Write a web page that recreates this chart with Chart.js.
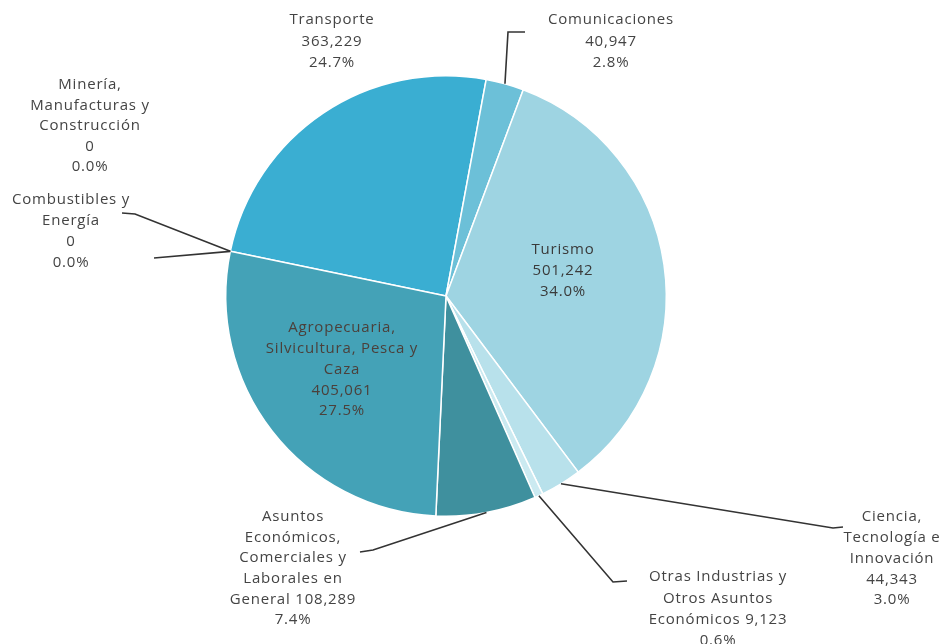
<!DOCTYPE html>
<html lang="es">
<head>
    <meta charset="UTF-8">
    <title>Distribución por función</title>
    <script src="https://cdn.jsdelivr.net/npm/chart.js"></script>
    <style>
        body { margin: 0; background: #ffffff; }
        #wrap { width: 948px; height: 644px; position: relative; }
    </style>
</head>
<body>
    <div id="wrap"><canvas id="pieChart" width="948" height="644"></canvas></div>

    <script>
        // Data (clockwise, starting with Transporte)
        const categories = [
            'Transporte', 'Comunicaciones', 'Turismo',
            'Ciencia, Tecnología e Innovación',
            'Otras Industrias y Otros Asuntos Económicos',
            'Asuntos Económicos, Comerciales y Laborales en General',
            'Agropecuaria, Silvicultura, Pesca y Caza',
            'Combustibles y Energía',
            'Minería, Manufacturas y Construcción'
        ];
        const values = [363229, 40947, 501242, 44343, 9123, 108289, 405061, 0, 0];
        const sliceColors = ['#3aaed2', '#6cc0d8', '#9ed4e2', '#b8e1eb', '#cbeaf1', '#3f909e', '#44a2b7', '#3f909e', '#44a2b7'];

        // Label text lines, {v} = value, {p} = percent
        const labelLines = [
            ['Transporte', '{v}', '{p}'],
            ['Comunicaciones', '{v}', '{p}'],
            ['Turismo', '{v}', '{p}'],
            ['Ciencia,', 'Tecnología e', 'Innovación', '{v}', '{p}'],
            ['Otras Industrias y', 'Otros Asuntos', 'Económicos {v}', '{p}'],
            ['Asuntos', 'Económicos,', 'Comerciales y', 'Laborales en', 'General {v}', '{p}'],
            ['Agropecuaria,', 'Silvicultura, Pesca y', 'Caza', '{v}', '{p}'],
            ['Combustibles y', 'Energía', '{v}', '{p}'],
            ['Minería,', 'Manufacturas y', 'Construcción', '{v}', '{p}']
        ];

        // label placement: center x, first line y, line height, colour, leader points (label side first)
        const labelLayout = [
            { x: 332, y: 20, lh: 21.5, color: '#444' },
            { x: 611, y: 20, lh: 21.5, color: '#444', leader: [[525, 32], [508, 32]] },
            { x: 563, y: 250, lh: 21, color: '#3a3a3a' },
            { x: 892, y: 517, lh: 20.8, color: '#444', leader: [[843, 527], [833, 528]] },
            { x: 718, y: 577, lh: 21.3, color: '#444', leader: [[627, 581], [613, 582]] },
            { x: 293, y: 517, lh: 20.6, color: '#444', leader: [[360, 552], [373, 550]] },
            { x: 342, y: 328, lh: 20.8, color: '#4b403b' },
            { x: 71, y: 200, lh: 20.8, color: '#444', leader: [[122, 213], [135, 214]] },
            { x: 90, y: 85, lh: 20.5, color: '#444', leader: [[154, 258]] }
        ];

        const total = values.reduce((a, b) => a + b, 0);

        function fmtLine(line, i) {
            const v = values[i].toLocaleString('en-US');
            const p = (values[i] / total * 100).toFixed(1) + '%';
            return line.replace('{v}', v).replace('{p}', p);
        }

        const pieLabels = {
            id: 'pieLabels',
            afterDatasetsDraw(chart) {
                const ctx = chart.ctx;
                const arcs = chart.getDatasetMeta(0).data;
                ctx.save();
                ctx.font = '15px "Open Sans", sans-serif';
                ctx.letterSpacing = '0.8px';
                ctx.textAlign = 'center';
                ctx.textBaseline = 'middle';
                labelLayout.forEach((lay, i) => {
                    // leader line
                    if (lay.leader) {
                        const arc = arcs[i];
                        const mid = values[i] === 0 ? arc.startAngle : (arc.startAngle + arc.endAngle) / 2;
                        const ax = arc.x + Math.cos(mid) * arc.outerRadius;
                        const ay = arc.y + Math.sin(mid) * arc.outerRadius;
                        ctx.beginPath();
                        ctx.strokeStyle = '#333';
                        ctx.lineWidth = 1.6;
                        ctx.moveTo(lay.leader[0][0], lay.leader[0][1]);
                        for (let k = 1; k < lay.leader.length; k++) ctx.lineTo(lay.leader[k][0], lay.leader[k][1]);
                        ctx.lineTo(ax, ay);
                        ctx.stroke();
                    }
                    ctx.fillStyle = lay.color;
                    labelLines[i].forEach((ln, j) => {
                        ctx.fillText(fmtLine(ln, i), lay.x, lay.y + j * lay.lh);
                    });
                });
                ctx.restore();
            }
        };

        new Chart(document.getElementById('pieChart'), {
            type: 'pie',
            data: {
                labels: categories,
                datasets: [{
                    data: values,
                    backgroundColor: sliceColors,
                    borderColor: '#ffffff',
                    borderWidth: 1.5
                }]
            },
            options: {
                responsive: false,
                animation: false,
                rotation: -78.3,
                layout: { padding: { left: 225, right: 281, top: 75, bottom: 127 } },
                plugins: {
                    legend: { display: false },
                    tooltip: { enabled: false }
                }
            },
            plugins: [pieLabels]
        });
    </script>
</body>
</html>
